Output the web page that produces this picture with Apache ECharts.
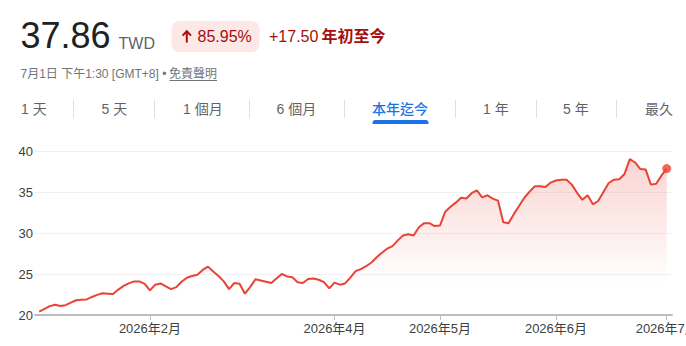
<!DOCTYPE html>
<html><head><meta charset="utf-8">
<script src="https://cdn.jsdelivr.net/npm/echarts@6/dist/echarts.min.js"></script>
<style>html,body{margin:0;padding:0;background:#fff}#c{width:686px;height:346px}</style>
</head><body><div id="c"></div>
<script>
// ---- data ----
const prices = [
  20.4, 20.74, 21.08, 21.25, 21.1, 21.2, 21.5, 21.8, 21.85, 21.9,
  22.2, 22.45, 22.65, 22.6, 22.55, 23.1, 23.55, 23.85, 24.1, 24.1,
  23.8, 23.0, 23.7, 23.85, 23.5, 23.15, 23.4, 24.05, 24.55, 24.75,
  24.9, 25.5, 25.9, 25.3, 24.75, 24.1, 23.15, 23.9, 23.8, 22.6,
  23.4, 24.35, 24.2, 24.05, 23.9, 24.45, 25.0, 24.7, 24.6, 24.0,
  23.9, 24.4, 24.45, 24.3, 24.0, 23.25, 23.95, 23.7, 23.85, 24.55,
  25.35, 25.6, 25.95, 26.4, 27.05, 27.6, 28.1, 28.4, 29.1, 29.7,
  29.85, 29.7, 30.7, 31.2, 31.2, 30.85, 30.9, 32.6, 33.2, 33.7,
  34.3, 34.2, 34.85, 35.2, 34.35, 34.6, 34.2, 33.95, 31.3, 31.2,
  32.3, 33.3, 34.3, 35.05, 35.7, 35.7, 35.6, 36.15, 36.4, 36.5,
  36.5, 35.9, 34.9, 34.05, 34.6, 33.5, 33.9, 35.0, 36.1, 36.5,
  36.55, 37.2, 39.0, 38.6, 37.8, 37.75, 35.9, 36.0, 37.0, 37.86
];
const monthTickIndex = [21, 56, 76, 98, 119];
const monthTickLabels = ['2026年2月', '2026年4月', '2026年5月', '2026年6月', '2026年7月'];
const yMin = 20, yMax = 40, yStep = 5;
const priceText = '37.86';
const currency = 'TWD';
const changePct = '85.95%';
const changeAbs = '+17.50';
const periodLabel = '年初至今';
const timestamp = '7月1日 下午1:30 [GMT+8] • ';
const disclaimer = '免責聲明';
const tabs = ['1 天', '5 天', '1 個月', '6 個月', '本年迄今', '1 年', '5 年', '最久'];
const activeTab = 4;

// ---- layout ----
const FONT = '"Liberation Sans", Arial, "Noto Sans CJK TC", sans-serif';
const RED = '#ea4335';
const DARKRED = '#a50e0e';
const tabX = [21, 101.5, 183, 276.5, 372, 483, 563, 645];
const sepX = [73, 154, 249, 344, 455, 536, 616];

const graphics = [];
function txt(x, y, text, size, fill, weight, align) {
  graphics.push({type: 'text', x: x, y: y, silent: true, style: {
    text: text, fill: fill, fontSize: size, fontFamily: FONT, fontWeight: weight || 'normal',
    textAlign: align || 'left', textVerticalAlign: 'middle'}});
}
txt(20.5, 35, priceText, 36, '#202124');
txt(118.5, 43, currency, 16, '#5f6368');
graphics.push({type: 'rect', shape: {x: 171.5, y: 21, width: 88, height: 31, r: 8}, style: {fill: '#fce8e6'}, silent: true});
// up-arrow icon
graphics.push({type: 'polyline', shape: {points: [[186.8, 42.5], [186.8, 31.5]]}, style: {stroke: DARKRED, lineWidth: 2, fill: null}, silent: true});
graphics.push({type: 'polyline', shape: {points: [[182.6, 35.6], [186.8, 31.2], [191, 35.6]]}, style: {stroke: DARKRED, lineWidth: 2, fill: null}, silent: true});
txt(197.5, 36, changePct, 16, DARKRED);
txt(269, 36, changeAbs, 16, DARKRED);
txt(321.5, 36.5, periodLabel, 16, DARKRED, 'bold');
txt(20.5, 74, timestamp, 12, '#70757a');
txt(217, 74, disclaimer, 12, '#70757a', 'normal', 'right');
graphics.push({type: 'line', shape: {x1: 169.5, y1: 80.5, x2: 217, y2: 80.5}, style: {stroke: '#70757a', lineWidth: 1}, silent: true});
tabs.forEach(function (t, i) {
  txt(tabX[i], 109, t, 14, i === activeTab ? '#1a73e8' : '#5f6368', i === activeTab ? 500 : 'normal');
});
sepX.forEach(function (x) {
  graphics.push({type: 'line', shape: {x1: x + 0.5, y1: 100, x2: x + 0.5, y2: 118}, style: {stroke: '#e0e0e0', lineWidth: 1}, silent: true});
});
graphics.push({type: 'rect', shape: {x: 372.5, y: 120, width: 56, height: 4, r: [3, 3, 0, 0]}, style: {fill: '#1a73e8'}, silent: true});

const lineData = prices.map(function (v, i) { return [i, v]; });
const last = lineData[lineData.length - 1];

const chart = echarts.init(document.getElementById('c'), null, {renderer: 'svg'});
chart.setOption({
  animation: false,
  backgroundColor: '#fff',
  grid: {left: 35, right: 14, top: 151, bottom: 31, containLabel: false, outerBoundsMode: 'none'},
  xAxis: {
    type: 'value', min: -0.8, max: 120,
    axisLine: {show: true, lineStyle: {color: '#bdbdbd', width: 2}},
    axisTick: {show: true, customValues: monthTickIndex, length: 5, lineStyle: {color: '#bdbdbd', width: 1}},
    axisLabel: {customValues: monthTickIndex, formatter: function (v) { return monthTickLabels[monthTickIndex.indexOf(v)]; },
      fontSize: 13, color: '#3c4043', fontFamily: FONT, margin: 7, hideOverlap: false},
    splitLine: {show: false}
  },
  yAxis: {
    type: 'value', min: yMin, max: yMax, interval: yStep,
    axisLine: {show: false}, axisTick: {show: false},
    axisLabel: {fontSize: 13, color: '#3c4043', fontFamily: FONT, margin: 2},
    splitLine: {lineStyle: {color: '#f1f1f1', width: 1}}
  },
  series: [{
    type: 'line', data: lineData, symbol: 'none', smooth: false,
    lineStyle: {color: RED, width: 2},
    areaStyle: {color: new echarts.graphic.LinearGradient(0, 0, 0, 1, [
      {offset: 0, color: 'rgba(234,67,53,0.32)'},
      {offset: 0.8, color: 'rgba(234,67,53,0)'}
    ])},
    z: 3
  }, {
    type: 'scatter', data: [last], symbol: 'circle', symbolSize: 9,
    itemStyle: {color: RED}, z: 4
  }],
  graphic: graphics
});
</script>
</body></html>
